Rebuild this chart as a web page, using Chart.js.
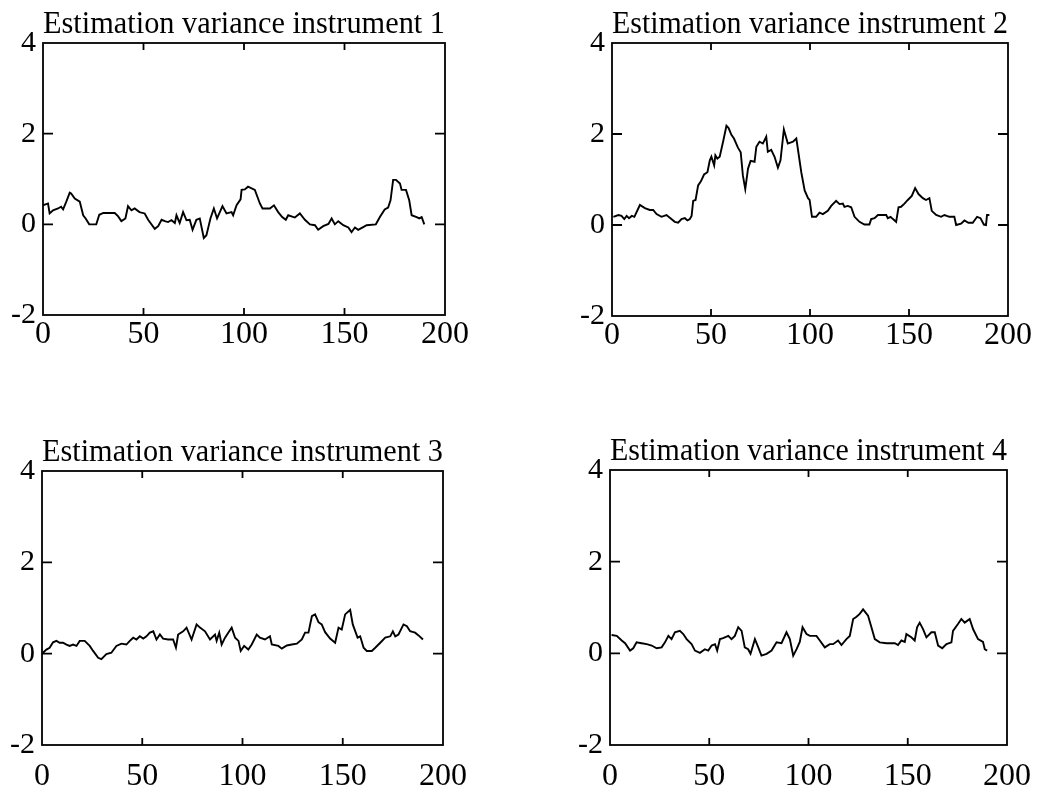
<!DOCTYPE html>
<html>
<head>
<meta charset="utf-8">
<script src="https://cdn.jsdelivr.net/npm/chart.js@4/dist/chart.umd.min.js"></script>
<style>
  body { margin: 0; background: #fff; width: 1040px; height: 788px; position: relative; overflow: hidden; }
  canvas { position: absolute; }
</style>
</head>
<body>
<canvas id="c1" style="left:0px;top:0px"></canvas>
<canvas id="c2" style="left:569px;top:0px"></canvas>
<canvas id="c3" style="left:-1px;top:428px"></canvas>
<canvas id="c4" style="left:567px;top:427px"></canvas>
<script>
// tick labels
const xTicks = [0, 50, 100, 150, 200];
const yTicks = [-2, 0, 2, 4];

const titles = [
  'Estimation variance instrument 1',
  'Estimation variance instrument 2',
  'Estimation variance instrument 3',
  'Estimation variance instrument 4'
];

// instrument 1
const x1 = [0, 2.5, 3.3, 5, 7.5, 9, 10, 11.6, 13.3, 14, 15.8, 18.3, 20, 21.2, 23, 26.5, 28, 30, 35.7, 37.3,
  39, 41, 42.3, 44, 45.6, 48, 50.6, 52.3, 55.6, 57.3, 59, 60.6, 62.2, 63.9, 65.6, 66.4, 68, 69.7, 71.4, 73,
  74.4, 76.3, 78, 80, 81.3, 83.3, 85, 86.6, 89.3, 91.3, 93.8, 94.6, 96.3, 98.3, 98.8, 100.4, 102, 105.4, 107.9, 109.2,
  112.9, 114.9, 117, 119, 120.8, 122, 125.3, 127.8, 130.3, 132.8, 135.3, 136.9, 139.4, 142, 143.6, 145.2, 146.9, 149.4, 151.9, 153.5,
  155.2, 156.8, 159.3, 161, 165.6, 167.6, 170, 171.7, 172.9, 174.2, 175.6, 177.6, 178.4, 180.6, 182.2, 183.4, 185.9, 187.2, 188.4, 189.7];
const y1 = [0.42, 0.46, 0.24, 0.31, 0.35, 0.39, 0.33, 0.5, 0.7, 0.68, 0.57, 0.5, 0.2, 0.13, 0, 0, 0.21, 0.25, 0.25, 0.18,
  0.07, 0.13, 0.4, 0.31, 0.35, 0.27, 0.24, 0.1, -0.1, -0.04, 0.1, 0.07, 0.05, 0.09, 0.03, 0.2, 0.03, 0.27, 0.09, 0.1,
  -0.12, 0.1, 0.13, -0.3, -0.24, 0.13, 0.35, 0.13, 0.4, 0.24, 0.27, 0.2, 0.42, 0.55, 0.76, 0.77, 0.83, 0.76, 0.46, 0.35,
  0.35, 0.42, 0.27, 0.16, 0.1, 0.2, 0.15, 0.24, 0.1, 0, -0.02, -0.12, -0.04, 0.01, 0.13, 0, 0.07, -0.02, -0.07, -0.17,
  -0.07, -0.12, -0.06, -0.02, 0, 0.16, 0.33, 0.37, 0.53, 0.98, 0.98, 0.9, 0.76, 0.76, 0.53, 0.2, 0.16, 0.13, 0.16, 0];

// instrument 2
const x2 = [0.7, 3.2, 4.8, 6.2, 7.4, 8.6, 10, 11.3, 14.1, 16.6, 19.1, 20.8, 22.5, 25, 27.5, 29.2, 31.7, 33.4, 35.1, 36.8,
  38.1, 39.3, 40.2, 41, 42.2, 43.5, 44.9, 46.5, 48.2, 49.4, 50.2, 51.6, 52.2, 53.2, 54.4, 56.1, 57.8, 58.9, 60.3, 61.6,
  63.6, 65, 66.1, 67.3, 68.7, 70, 72, 72.9, 74.5, 76.2, 77.9, 78.7, 80.4, 82.1, 83.8, 85.1, 86.8, 88.8, 91.4, 93.1,
  95.6, 97.3, 99, 99.8, 101, 103.1, 104.8, 106.5, 109, 110.7, 113.2, 114.9, 116.6, 117.4, 119.1, 120.8, 122.5, 125, 127.5, 130,
  130.9, 132.6, 134.3, 136, 138.5, 139.3, 140.7, 141.9, 143.5, 144.7, 146, 147.7, 149.4, 151.4, 153.1, 154.8, 157, 158.6, 160.3, 161.5,
  163.7, 166.2, 167.9, 170.4, 172.9, 173.8, 176.3, 178, 180, 182.2, 184.4, 186.1, 187.8, 188.9, 189.4, 190.6];
const y2 = [0.18, 0.22, 0.2, 0.13, 0.2, 0.15, 0.2, 0.18, 0.44, 0.37, 0.33, 0.33, 0.24, 0.18, 0.22, 0.16, 0.07, 0.05, 0.13, 0.15,
  0.1, 0.13, 0.2, 0.53, 0.55, 0.87, 0.96, 1.11, 1.16, 1.42, 1.5, 1.31, 1.53, 1.46, 1.5, 1.83, 2.18, 2.13, 1.98, 1.9,
  1.7, 1.6, 1.09, 0.79, 1.24, 1.41, 1.39, 1.72, 1.83, 1.79, 1.94, 1.61, 1.65, 1.5, 1.26, 1.42, 2.1, 1.79, 1.83, 1.9,
  1.16, 0.76, 0.59, 0.55, 0.18, 0.18, 0.27, 0.24, 0.31, 0.42, 0.53, 0.46, 0.47, 0.4, 0.42, 0.39, 0.18, 0.07, 0.01, 0.01,
  0.13, 0.15, 0.22, 0.22, 0.22, 0.15, 0.18, 0.13, 0.07, 0.39, 0.4, 0.47, 0.55, 0.64, 0.81, 0.68, 0.59, 0.55, 0.59, 0.31,
  0.22, 0.18, 0.22, 0.18, 0.18, 0, 0.03, 0.1, 0.05, 0.05, 0.18, 0.15, 0.01, 0, 0.22, 0.22];

// instrument 3
const x3 = [0.5, 2.2, 3.8, 5.5, 7.2, 8.8, 10.5, 12.2, 13.8, 15.5, 17.2, 18.8, 21.3, 23.8, 25.5, 28, 29.6, 32.1, 34.6, 37.1,
  39.6, 42.1, 43.8, 45.5, 47.1, 48.8, 50.5, 52.1, 53.8, 55.5, 57.1, 58.8, 60.4, 62.9, 65.4, 66.8, 67.9, 70.4, 72.1, 74.6,
  77.1, 78.8, 81.3, 83.8, 86.3, 87.1, 88.4, 89.6, 91.3, 92.9, 94.6, 96.3, 98, 99.1, 100.8, 102.9, 104.6, 107.1, 108.7, 111.2,
  113.7, 114.6, 117.9, 119.6, 122.1, 124.6, 127.1, 129.6, 131.2, 132.9, 134.6, 136.2, 137.9, 139.5, 141.2, 143.7, 146.2, 147.9, 149.5, 151.2,
  153.7, 155, 157.4, 158.7, 160.4, 162, 164.5, 166.2, 168.7, 171.2, 173.7, 175, 176.2, 177.8, 180.3, 182, 183.6, 186.1, 187.8, 190];
const y3 = [0.02, 0.09, 0.13, 0.25, 0.28, 0.24, 0.24, 0.2, 0.17, 0.2, 0.17, 0.28, 0.28, 0.17, 0.06, -0.09, -0.12, -0.01, 0.02, 0.17,
  0.22, 0.2, 0.28, 0.35, 0.31, 0.38, 0.33, 0.38, 0.46, 0.49, 0.31, 0.42, 0.33, 0.31, 0.31, 0.13, 0.42, 0.49, 0.57, 0.31,
  0.64, 0.57, 0.49, 0.31, 0.42, 0.28, 0.46, 0.2, 0.35, 0.46, 0.57, 0.35, 0.28, 0.06, 0.17, 0.09, 0.2, 0.42, 0.35, 0.31,
  0.38, 0.2, 0.17, 0.11, 0.18, 0.2, 0.22, 0.31, 0.46, 0.46, 0.82, 0.86, 0.69, 0.64, 0.47, 0.33, 0.24, 0.57, 0.53, 0.86,
  0.96, 0.64, 0.35, 0.38, 0.13, 0.06, 0.06, 0.13, 0.24, 0.35, 0.38, 0.49, 0.38, 0.42, 0.64, 0.6, 0.49, 0.46, 0.4, 0.31];

// instrument 4
const x4 = [0.8, 3.4, 5.9, 7.6, 10.1, 11.7, 13.4, 15.9, 18.5, 21, 23.5, 26, 27.7, 29.4, 31, 32.7, 35.2, 36.9, 38.6, 41.1,
  42.8, 45.3, 47.8, 49.5, 51.2, 52.9, 54, 55.4, 57, 59.6, 61.2, 62.9, 64.6, 66.3, 67.9, 69.6, 70.8, 73, 74.7, 76.3,
  78.9, 81.4, 83.9, 86.4, 88.9, 90.6, 92.3, 94, 95.6, 97, 99, 100.7, 104, 105.7, 108.2, 110.7, 112.4, 114.9, 116.6, 119.1,
  120.8, 122.5, 124.2, 125.8, 127.5, 130, 131.7, 133.4, 135.9, 139.3, 143.5, 145.1, 146.8, 148.5, 149.3, 151.8, 153.5, 154.7, 156, 157.7,
  159.4, 161.9, 163.6, 165.3, 167.4, 169.5, 172, 172.8, 175.3, 177, 178.7, 181.2, 182.9, 185.4, 187.9, 188.8, 190];
const y4 = [0.4, 0.38, 0.28, 0.22, 0.06, 0.11, 0.24, 0.22, 0.2, 0.17, 0.11, 0.13, 0.24, 0.38, 0.31, 0.46, 0.49, 0.42, 0.31, 0.2,
  0.06, 0.01, 0.09, 0.06, 0.17, 0.2, 0.06, 0.31, 0.33, 0.38, 0.31, 0.38, 0.57, 0.49, 0.13, 0.09, -0.01, 0.31, 0.13, -0.05,
  -0.01, 0.06, 0.24, 0.22, 0.46, 0.31, -0.05, 0.09, 0.25, 0.57, 0.42, 0.38, 0.38, 0.28, 0.13, 0.2, 0.2, 0.28, 0.18, 0.31,
  0.38, 0.75, 0.8, 0.86, 0.96, 0.82, 0.57, 0.31, 0.24, 0.22, 0.22, 0.18, 0.28, 0.25, 0.42, 0.35, 0.28, 0.57, 0.67, 0.53,
  0.35, 0.46, 0.46, 0.17, 0.11, 0.2, 0.24, 0.49, 0.64, 0.75, 0.67, 0.75, 0.53, 0.31, 0.25, 0.09, 0.06];

const serif = "'Liberation Serif', 'Times New Roman', serif";

// frame + inward ticks on all four sides
const framePlugin = {
  id: 'frame',
  afterDraw(chart) {
    const ctx = chart.ctx;
    const a = chart.chartArea;
    const xs = chart.scales.x;
    const ys = chart.scales.y;
    ctx.save();
    ctx.strokeStyle = '#000';
    ctx.lineWidth = 1.8;
    ctx.strokeRect(a.left, a.top, a.right - a.left, a.bottom - a.top);
    ctx.beginPath();
    xTicks.slice(1, -1).forEach(v => {
      const px = xs.getPixelForValue(v);
      ctx.moveTo(px, a.bottom); ctx.lineTo(px, a.bottom - 7);
      ctx.moveTo(px, a.top); ctx.lineTo(px, a.top + 7);
    });
    yTicks.slice(1, -1).forEach(v => {
      const py = ys.getPixelForValue(v);
      ctx.moveTo(a.left, py); ctx.lineTo(a.left + 10, py);
      ctx.moveTo(a.right, py); ctx.lineTo(a.right - 10, py);
    });
    ctx.stroke();
    ctx.restore();
  }
};

function makePanel(id, title, xs, ys, areaW, areaH, xPad) {
  const canvas = document.getElementById(id);
  canvas.width = 43 + areaW + 40;
  canvas.height = 43 + areaH + 50;
  return new Chart(canvas, {
    type: 'line',
    data: {
      datasets: [{
        data: xs.map((x, i) => ({ x: x, y: ys[i] })),
        borderColor: '#000',
        borderWidth: 1.9,
        pointRadius: 0,
        tension: 0,
        fill: false
      }]
    },
    options: {
      responsive: false,
      animation: false,
      devicePixelRatio: 1,
      layout: { padding: { top: 9, left: 0, right: 40, bottom: 0 } },
      plugins: {
        legend: { display: false },
        tooltip: { enabled: false },
        title: {
          display: true,
          text: title,
          fullSize: false,
          color: '#000',
          font: { family: serif, size: 31, weight: 'normal', lineHeight: 1 },
          padding: { top: 0, bottom: 3 }
        }
      },
      scales: {
        x: {
          type: 'linear',
          min: 0,
          max: 200,
          afterFit: s => { s.height = 50; },
          afterBuildTicks: s => { s.ticks = xTicks.map(v => ({ value: v })); },
          ticks: { color: '#000', font: { family: serif, size: 32 }, padding: xPad, maxRotation: 0 },
          grid: { display: false, drawTicks: false },
          border: { display: false }
        },
        y: {
          min: -2,
          max: 4,
          afterFit: s => { s.width = 43; },
          afterBuildTicks: s => { s.ticks = yTicks.map(v => ({ value: v })); },
          ticks: { color: '#000', font: { family: serif, size: 30 }, padding: 7 },
          grid: { display: false, drawTicks: false },
          border: { display: false }
        }
      }
    },
    plugins: [framePlugin]
  });
}

makePanel('c1', titles[0], x1, y1, 402, 272, 0);
makePanel('c2', titles[1], x2, y2, 396, 273, 0);
makePanel('c3', titles[2], x3, y3, 401, 274, 12);
makePanel('c4', titles[3], x4, y4, 397, 275, 12);
</script>
</body>
</html>
